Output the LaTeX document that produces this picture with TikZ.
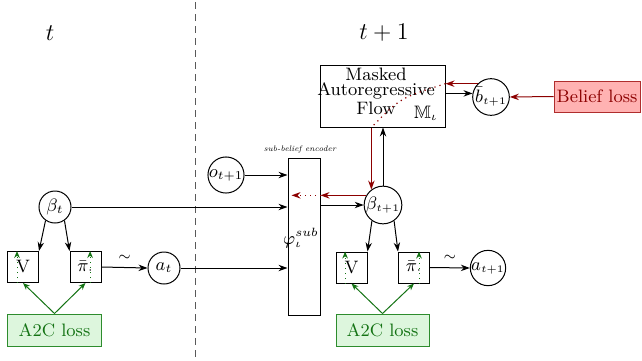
\documentclass[tikz,border=0pt]{standalone}
\usepackage{amssymb}
\usetikzlibrary{arrows.meta,calc}
\definecolor{dred}{RGB}{140,0,0}
\definecolor{lred}{RGB}{255,178,178}
\definecolor{bred}{RGB}{175,45,45}
\definecolor{dgreen}{RGB}{20,115,20}
\definecolor{lgreen}{RGB}{221,246,221}
\definecolor{bgreen}{RGB}{45,140,45}
\begin{document}
\begin{tikzpicture}[x=0.5pt,y=-0.5pt,font=\fontsize{9}{10}\selectfont,
  circ/.style={circle,draw,line width=0.5pt,minimum size=16pt,inner sep=0pt},
  sqbox/.style={draw,line width=0.5pt,minimum width=15.5pt,minimum height=15.5pt,inner sep=0pt},
  arr/.style={-{Stealth[length=4.5pt,width=3.2pt]},line width=0.5pt},
  redarr/.style={arr,dred},
  greenarr/.style={-{Stealth[length=3.5pt,width=2.8pt]},dgreen,line width=0.5pt},
  redbox/.style={draw=bred,fill=lred,text=dred,line width=0.5pt,minimum width=43pt,minimum height=15.5pt,inner sep=0pt},
  greenbox/.style={draw=bgreen,fill=lgreen,text=dgreen,line width=0.5pt,minimum width=47pt,minimum height=16pt,inner sep=0pt},
  steplabel/.style={font=\fontsize{12}{14}\selectfont},
  tilde/.style={above=0pt,font=\fontsize{7}{8}\selectfont}]
\useasboundingbox (0,0) rectangle (642,360);

% divider and time labels
\coordinate (divtop) at (195,2);
\coordinate (divbot) at (195,358);
\draw[line width=0.5pt,gray!70!black,dash pattern=on 3.5pt off 2.5pt] (divtop) -- (divbot);
\node[steplabel] (tlab) at (50,33) {$t$};
\node[steplabel] (t1lab) at (384,33) {$t+1$};

% MAF
\node[draw,line width=0.5pt,minimum width=62.5pt,minimum height=31pt,inner sep=0pt] (maf) at (382.5,96) {};
\node[align=center,font=\fontsize{9}{7.8}\selectfont,inner sep=0pt] (maftext) at (376,91) {Masked\\Autoregressive\\Flow};
\node[inner sep=0pt] (mlab) at (426,113) {$\mathbb{M}_\iota$};

\node[circ,minimum size=15.5pt] (b) at (491,97) {$\bar b_{\scriptscriptstyle t+1}$};
\node[redbox] (blf) at (597,96.5) {Belief loss};

% encoder
\node[draw,line width=0.5pt,minimum width=16pt,minimum height=78.5pt,inner sep=0pt] (phi) at (304,236.5) {};
\node[inner sep=0pt] (philab) at (301,238) {$\varphi_\iota^{sub}$};
\node[font=\fontsize{4}{5}\selectfont\itshape,inner sep=0pt] (enclab) at (300,149) {sub-belief encoder};
\node[circ,minimum size=15.5pt] (o) at (226,175) {$o_{t+1}$};

% left step
\node[circ] (bt) at (55,207) {$\beta_t$};
\node[sqbox] (V1) at (23,267) {V};
\node[sqbox] (pi1) at (85.5,267) {$\bar\pi_\cdot$};
\node[circ] (a1) at (164,268) {$a_t$};
\node[greenbox] (l1) at (54.5,330) {A2C loss};

% right step
\node[circ,minimum size=15.5pt] (bt1) at (383,205) {$\beta_{\scriptscriptstyle t+1}$};
\node[sqbox] (V2) at (351.5,267.5) {V};
\node[sqbox] (pi2) at (414,267.5) {$\bar\pi_\cdot$};
\node[circ,minimum size=15.5pt] (a2) at (488,268) {$a_{\scriptscriptstyle t+1}$};
\node[greenbox,minimum width=46.5pt] (l2) at (382.5,330) {A2C loss};

% black connectors
\draw[arr] (bt.east) -- (phi.west |- bt.east);
\draw[arr] (o.east) -- (phi.west |- o.east);
\draw[arr] (a1.east) -- (phi.west |- a1.east);
\draw[arr] (phi.east |- bt1.west) -- (bt1.west);
\draw[arr] (bt1.north) -- (bt1.north |- maf.south);
\draw[arr] (maf.east |- b.169) -- (b.169);
\draw[arr] (bt.235) -- (V1.north east);
\draw[arr] (bt.305) -- (pi1.north west);
\draw[arr] (bt1.235) -- (V2.north east);
\draw[arr] (bt1.305) -- (pi2.north west);
\draw[arr] (pi1.east) -- node[tilde] {$\sim$} (a1.west);
\draw[arr] (pi2.east) -- node[tilde] {$\sim$} (a2.west);

% red (belief gradient) connectors
\draw[redarr] (blf.west) -- (b.east);
\draw[redarr] (b.135) -- (maf.east |- b.135);
\draw[dred,dotted,line width=0.6pt] (maf.east |- b.135) .. controls (400,98) .. (maf.south -| bt1.127);
\draw[redarr] (maf.south -| bt1.127) -- (bt1.127);
\draw[redarr] (bt1.150) -- (phi.east |- bt1.150);
\draw[redarr,dotted,line width=0.6pt] (phi.east |- bt1.150) -- ($(phi.west |- bt1.150)+(4,0)$);

% green (A2C) connectors
\draw[greenarr] (l1.north) -- (V1.south);
\draw[greenarr] (l1.north) -- (pi1.south);
\draw[greenarr] (l2.north) -- (V2.south);
\draw[greenarr] (l2.north) -- (pi2.south);
\draw[greenarr,dotted] ([xshift=-3pt]V1.south) -- ([xshift=-3pt]V1.north);
\draw[greenarr,dotted] ([xshift=2.3pt]pi1.south) -- ([xshift=2.3pt]pi1.north);
\draw[greenarr,dotted] ([xshift=-3.2pt]V2.south) -- ([xshift=-3.2pt]V2.north);
\draw[greenarr,dotted] ([xshift=2.5pt]pi2.south) -- ([xshift=2.5pt]pi2.north);
\end{tikzpicture}
\end{document}
